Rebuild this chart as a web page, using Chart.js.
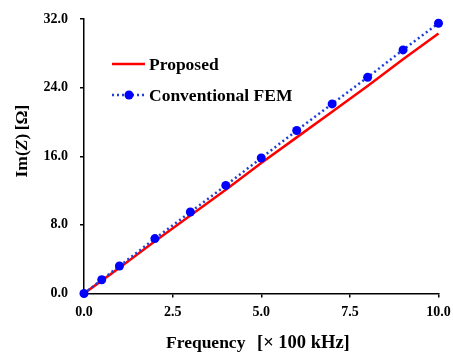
<!DOCTYPE html>
<html>
<head>
<meta charset="utf-8">
<style>
  html, body { margin: 0; padding: 0; background: #fff; }
  canvas { display: block; }
</style>
<script src="https://cdn.jsdelivr.net/npm/chart.js"></script>
</head>
<body>
<canvas id="impedanceChart" width="453" height="358"></canvas>
<script>
// frequency in units of 100 kHz
const frequency = [0, 0.5, 1, 2, 3, 4, 5, 6, 7, 8, 9, 10];
// Im(Z) in ohm
const proposed = [0, 1.5, 3.0, 6.1, 9.1, 12.1, 15.2, 18.2, 21.2, 24.2, 27.3, 30.3];
const conventionalFem = [0, 1.6, 3.2, 6.4, 9.5, 12.6, 15.8, 19.0, 22.1, 25.2, 28.4, 31.5];
const xTicks = [0, 2.5, 5, 7.5, 10];
const yTicks = [0, 8, 16, 24, 32];

const serif = '"Liberation Serif", "Times New Roman", serif';

function toPoints(ys) {
    return frequency.map((f, i) => ({ x: f, y: ys[i] }));
}

// legend and axis titles drawn by hand (inline legend, italic Z)
const decorations = {
    id: 'decorations',
    afterDraw(chart) {
        const ctx = chart.ctx;
        const sets = chart.data.datasets;
        ctx.save();

        // legend
        const rows = [64, 95];
        sets.forEach((ds, i) => {
            const y = rows[i];
            ctx.strokeStyle = ds.borderColor;
            ctx.lineWidth = ds.borderWidth;
            ctx.setLineDash(ds.borderDash || []);
            ctx.beginPath();
            ctx.moveTo(112, y);
            ctx.lineTo(145, y);
            ctx.stroke();
            ctx.setLineDash([]);
            if (ds.pointRadius > 0) {
                ctx.fillStyle = ds.pointBackgroundColor;
                ctx.beginPath();
                ctx.arc(129, y, ds.pointRadius, 0, Math.PI * 2);
                ctx.fill();
            }
            ctx.fillStyle = '#000';
            ctx.font = 'bold 17.5px ' + serif;
            ctx.textAlign = 'left';
            ctx.textBaseline = 'middle';
            ctx.fillText(ds.label, 149, y + 1);
        });

        // x title
        ctx.textBaseline = 'alphabetic';
        ctx.font = 'bold 17.5px ' + serif;
        ctx.fillText('Frequency', 166, 348);
        ctx.font = 'bold 18.5px ' + serif;
        ctx.fillText('[\u00d7 100 kHz]', 257, 348);

        // y title, rotated
        ctx.translate(27, 141);
        ctx.rotate(-Math.PI / 2);
        const parts = [
            ['Im(', 'bold 17.5px ' + serif],
            ['Z', 'italic bold 17.5px ' + serif],
            [')\u2009[\u03a9]', 'bold 17.5px ' + serif]
        ];
        let total = 0;
        parts.forEach(p => { ctx.font = p[1]; total += ctx.measureText(p[0]).width; });
        let x = -total / 2;
        parts.forEach(p => {
            ctx.font = p[1];
            ctx.fillText(p[0], x, 0);
            x += ctx.measureText(p[0]).width;
        });
        ctx.restore();
    }
};

new Chart(document.getElementById('impedanceChart'), {
    type: 'line',
    data: {
        datasets: [{
            label: 'Proposed',
            data: toPoints(proposed),
            borderColor: '#ff0000',
            borderWidth: 2.5,
            pointRadius: 0,
            pointHoverRadius: 0,
            clip: false,
            order: 2
        }, {
            label: 'Conventional FEM',
            data: toPoints(conventionalFem),
            borderColor: '#1f3fd6',
            borderWidth: 2.5,
            borderDash: [2, 3],
            pointRadius: 4.5,
            pointBackgroundColor: '#0000ff',
            pointBorderColor: '#0000ff',
            pointBorderWidth: 0,
            clip: false,
            order: 1
        }]
    },
    options: {
        responsive: false,
        animation: false,
        events: [],
        layout: { padding: { top: 19, right: 14.5, left: 0, bottom: 0 } },
        plugins: {
            legend: { display: false },
            tooltip: { enabled: false }
        },
        scales: {
            x: {
                type: 'linear',
                min: 0,
                max: 10,
                afterBuildTicks: s => { s.ticks = xTicks.map(v => ({ value: v })); },
                afterFit: s => { s.height = 64.5; s.paddingLeft = 0; s.paddingRight = 0; },
                border: { color: '#000', width: 1.5 },
                grid: { drawOnChartArea: false, drawTicks: true, tickLength: 4, color: '#000', lineWidth: 1.5 },
                ticks: {
                    padding: 6,
                    color: '#000',
                    maxRotation: 0,
                    font: { family: serif, weight: 'bold', size: 14 },
                    callback: v => v.toFixed(1)
                }
            },
            y: {
                min: 0,
                max: 32,
                afterBuildTicks: s => { s.ticks = yTicks.map(v => ({ value: v })); },
                afterFit: s => { s.width = 84; s.paddingTop = 0; s.paddingBottom = 0; },
                border: { color: '#000', width: 1.5 },
                grid: { drawOnChartArea: false, drawTicks: true, tickLength: 4, color: '#000', lineWidth: 1.5 },
                ticks: {
                    padding: 12,
                    color: '#000',
                    font: { family: serif, weight: 'bold', size: 14 },
                    callback: v => v.toFixed(1)
                }
            }
        }
    },
    plugins: [decorations]
});
</script>
</body>
</html>
